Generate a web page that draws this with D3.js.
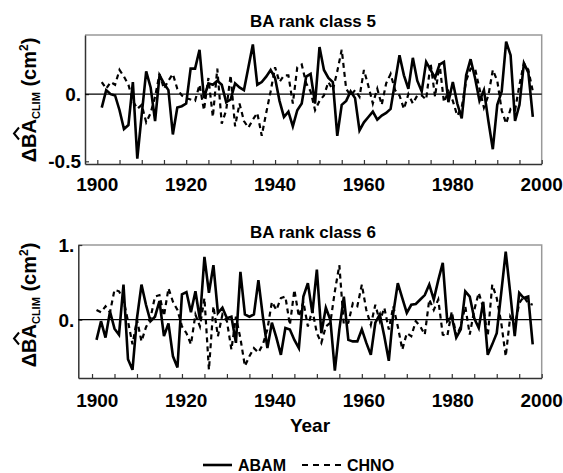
<!DOCTYPE html>
<html>
<head>
<meta charset="utf-8">
<script src="https://cdn.jsdelivr.net/npm/d3@7"></script>
<style>
  body { margin: 0; background: #fff; }
  svg text { font-family: "Liberation Sans", Arial, sans-serif; font-weight: bold; fill: #000; }
</style>
</head>
<body>
<div id="chart"></div>
<script>
// data, one value per year 1901..1998
var years = d3.range(1901, 1999);

var abam5 = [
  -0.10, 0.03, 0.00, -0.01, -0.12, -0.26, -0.23, 0.09, -0.48, -0.15,
  0.17, 0.05, -0.20, 0.14, 0.08, 0.03, -0.30, -0.10, -0.09, -0.07,
  0.19, 0.19, 0.33, -0.03, 0.08, 0.07, 0.10, 0.07, -0.06, -0.04,
  0.08, 0.05, 0.03, 0.20, 0.37, 0.07, 0.09, 0.13, 0.18, 0.12,
  -0.05, -0.17, -0.13, -0.24, -0.12, -0.07, 0.13, 0.15, -0.07, 0.35,
  0.18, 0.12, 0.09, -0.31, -0.08, -0.05, 0.02, -0.03, -0.27, -0.21,
  -0.17, -0.13, -0.19, -0.16, -0.14, -0.11, 0.09, 0.29, 0.14, 0.04,
  0.27, 0.10, 0.02, 0.24, 0.18, 0.12, 0.22, 0.24, -0.06, 0.09,
  -0.07, -0.18, 0.14, 0.26, 0.12, -0.05, 0.03, -0.20, -0.41, -0.08,
  0.02, 0.39, 0.29, -0.20, -0.08, 0.23, 0.16, -0.17
];
var chno5 = [
  0.09, 0.04, 0.09, 0.07, 0.18, 0.13, 0.07, -0.05, -0.11, -0.08,
  -0.21, -0.14, -0.02, 0.15, 0.04, 0.10, 0.15, 0.04, -0.01, -0.03,
  -0.04, -0.05, 0.07, -0.12, 0.12, -0.17, 0.19, -0.22, -0.12, 0.14,
  -0.24, -0.07, -0.20, -0.25, -0.19, -0.14, -0.31, -0.14, 0.02, 0.20,
  0.09, 0.14, 0.14, -0.07, 0.20, 0.22, 0.08, 0.02, -0.12, -0.05,
  -0.01, 0.09, 0.03, 0.17, 0.33, 0.04, -0.01, 0.03, -0.02, 0.18,
  0.06, -0.07, 0.04, -0.08, 0.08, 0.15, 0.03, -0.01, -0.11, 0.00,
  -0.07, -0.01, -0.01, -0.04, 0.23, -0.02, 0.23, -0.06, 0.02, -0.05,
  -0.16, -0.10, 0.10, 0.19, 0.19, 0.04, -0.10, -0.01, 0.18, 0.10,
  -0.12, -0.22, -0.11, -0.12, 0.07, 0.23, 0.18, 0.02
];
var abam6 = [
  -0.27, -0.02, -0.24, 0.11, -0.12, -0.20, 0.47, -0.53, -0.67, 0.02,
  0.47, 0.20, -0.02, 0.04, 0.25, -0.22, -0.05, -0.49, -0.64, 0.34,
  0.37, 0.10, 0.38, 0.00, 0.84, 0.36, 0.73, 0.09, 0.16, 0.02,
  0.04, -0.31, 0.64, 0.07, 0.04, 0.07, 0.53, 0.04, -0.38, -0.04,
  -0.24, -0.47, -0.11, -0.13, -0.27, -0.38, 0.31, 0.49, 0.09, 0.67,
  -0.18, 0.16, 0.00, -0.68, -0.13, 0.31, -0.27, -0.29, -0.29, -0.13,
  -0.31, -0.47, -0.04, 0.07, -0.22, -0.55, 0.09, 0.49, 0.29, 0.09,
  0.20, 0.21, 0.27, 0.33, 0.47, 0.27, 0.53, 0.76, -0.02, 0.04,
  -0.24, -0.13, 0.38, 0.31, 0.02, -0.11, 0.24, -0.47, -0.33, -0.18,
  0.36, 0.91, 0.36, -0.22, 0.36, 0.29, 0.31, -0.33
];
var chno6 = [
  0.13, 0.10, 0.18, 0.10, 0.40, 0.38, 0.27, -0.02, -0.33, 0.00,
  -0.29, -0.10, 0.02, 0.31, 0.33, 0.05, 0.42, 0.24, 0.13, -0.09,
  -0.18, -0.33, 0.07, -0.09, 0.29, -0.67, 0.18, -0.22, 0.07, -0.02,
  -0.40, 0.04, -0.25, -0.62, -0.49, -0.38, -0.44, -0.33, -0.13, 0.24,
  0.13, 0.29, 0.31, -0.07, 0.40, 0.04, 0.24, -0.09, 0.13, -0.18,
  -0.31, -0.09, -0.04, 0.38, 0.73, -0.07, -0.04, 0.22, 0.18, 0.47,
  0.13, -0.07, 0.20, -0.02, 0.16, -0.13, 0.18, -0.09, -0.40, -0.18,
  -0.22, -0.02, -0.09, -0.20, 0.27, 0.13, 0.27, -0.20, -0.22, 0.11,
  -0.22, -0.09, 0.18, -0.20, 0.13, 0.36, 0.16, -0.22, 0.47, 0.29,
  -0.04, -0.49, 0.04, -0.09, 0.22, 0.31, 0.22, 0.20
];

var xLabelYears = [1900, 1920, 1940, 1960, 1980, 2000];
var xMinorYears = d3.range(1900, 2001, 5);
var titles = ["BA rank class 5", "BA rank class 6"];
var seriesNames = ["ABAM", "CHNO"];
var yTicks5 = [-0.5, 0];
var yTickLabels5 = ["-0.5", "0."];
var yTicks6 = [0, 1];
var yTickLabels6 = ["0.", "1."];

var svg = d3.select("#chart").append("svg")
  .attr("width", 563)
  .attr("height", 473);

// panel geometry
var panels = [
  { title: titles[0], a: abam5, c: chno5, ticks: yTicks5, tickLabels: yTickLabels5,
    xDomain: [1897.23, 2000], xRange: [85, 541.7], yDomain: [-0.52, 0.44], yRange: [164, 35],
    titleY: 27, labelY: 191, yLabelCy: 100 },
  { title: titles[1], a: abam6, c: chno6, ticks: yTicks6, tickLabels: yTickLabels6,
    xDomain: [1896.95, 2000], xRange: [78.3, 541.7], yDomain: [-0.78, 1.0], yRange: [378, 245],
    titleY: 238, labelY: 407, yLabelCy: 305 }
];

// tick labels are placed the same in both panels
var xLab = d3.scaleLinear().domain([1897.23, 2000]).range([85, 541.7]);

panels.forEach(function(p)
{
  var x = d3.scaleLinear().domain(p.xDomain).range(p.xRange);
  var y = d3.scaleLinear().domain(p.yDomain).range(p.yRange);
  var g = svg.append("g");

  var x0 = p.xRange[0], x1 = p.xRange[1], yb = p.yRange[0], yt = p.yRange[1];

  // top / right frame in grey
  g.append("path")
    .attr("d", "M" + x0 + "," + yt + "H" + x1 + "V" + yb)
    .attr("fill", "none").attr("stroke", "#999").attr("stroke-width", 1.5);

  // x axis
  g.append("g")
    .attr("transform", "translate(0," + yb + ")")
    .call(d3.axisBottom(x).tickValues(xMinorYears).tickSizeInner(-4).tickSizeOuter(0).tickFormat(""))
    .call(function(a) {
      a.select(".domain").attr("stroke", "#333").attr("stroke-width", 1.5);
      a.selectAll(".tick line").attr("stroke", "#333").attr("stroke-width", 1.2);
    });

  g.selectAll(".xl")
    .data(xLabelYears)
    .enter().append("text")
    .attr("x", function(d) { return xLab(d); })
    .attr("y", p.labelY)
    .attr("text-anchor", "middle")
    .style("font-size", "19px")
    .text(function(d) { return d; });

  // y axis
  g.append("g")
    .attr("transform", "translate(" + x0 + ",0)")
    .call(d3.axisLeft(y).tickValues(p.ticks).tickSizeInner(-4).tickSizeOuter(0).tickFormat(""))
    .call(function(a) {
      a.select(".domain").attr("stroke", "#333").attr("stroke-width", 1.5);
      a.selectAll(".tick line").attr("stroke", "#333").attr("stroke-width", 1.2);
    });

  g.selectAll(".yl")
    .data(p.ticks)
    .enter().append("text")
    .attr("x", x0 - 4)
    .attr("y", function(d) { return y(d); })
    .attr("dy", "0.36em")
    .attr("text-anchor", "end")
    .style("font-size", "19px")
    .text(function(d, i) { return p.tickLabels[i]; });

  // zero line
  g.append("line")
    .attr("x1", x0).attr("x2", x1)
    .attr("y1", y(0)).attr("y2", y(0))
    .attr("stroke", "#000").attr("stroke-width", 1.2);

  var line = d3.line()
    .x(function(d, i) { return x(years[i]); })
    .y(function(d) { return y(d); });

  g.append("path")
    .datum(p.c)
    .attr("d", line)
    .attr("fill", "none")
    .attr("stroke", "#000")
    .attr("stroke-width", 2.2)
    .attr("stroke-dasharray", "5,4");

  g.append("path")
    .datum(p.a)
    .attr("d", line)
    .attr("fill", "none")
    .attr("stroke", "#000")
    .attr("stroke-width", 2.6)
    .attr("stroke-linejoin", "miter");

  // title
  g.append("text")
    .attr("x", 313)
    .attr("y", p.titleY)
    .attr("text-anchor", "middle")
    .style("font-size", "17px")
    .text(p.title);

  // y label: delta BA-hat sub CLIM (cm^2)
  var lg = g.append("g")
    .attr("transform", "translate(36," + p.yLabelCy + ") rotate(-90)");
  var t = lg.append("text").style("font-size", "20px");
  var tDelta = t.append("tspan").text("\u0394");
  var tBA = t.append("tspan").text("BA");
  t.append("tspan").attr("dy", 4).style("font-size", "11px").text("CLIM");
  t.append("tspan").attr("dy", -4).text(" (cm");
  t.append("tspan").attr("dy", -8).style("font-size", "12px").text("2");
  t.append("tspan").attr("dy", 8).text(")");

  var w = t.node().getBBox().width;
  t.attr("x", -w / 2);
  var dW = tDelta.node().getComputedTextLength();
  var baW = tBA.node().getComputedTextLength();
  var hx = -w / 2 + dW + baW / 2;
  lg.append("path")
    .attr("d", "M" + (hx - 6) + ",-17 L" + hx + ",-22 L" + (hx + 6) + ",-17")
    .attr("fill", "none").attr("stroke", "#000").attr("stroke-width", 2);
});

// x title
svg.append("text")
  .attr("x", 310).attr("y", 432)
  .attr("text-anchor", "middle")
  .style("font-size", "19px")
  .text("Year");

// legend
var leg = svg.append("g");
leg.append("line").attr("x1", 203).attr("x2", 232).attr("y1", 465).attr("y2", 465)
  .attr("stroke", "#000").attr("stroke-width", 2.6);
leg.append("text").attr("x", 238).attr("y", 471).style("font-size", "16px").text(seriesNames[0]);
leg.append("line").attr("x1", 302).attr("x2", 341).attr("y1", 465).attr("y2", 465)
  .attr("stroke", "#000").attr("stroke-width", 2.2).attr("stroke-dasharray", "6,5");
leg.append("text").attr("x", 347).attr("y", 471).style("font-size", "16px").text(seriesNames[1]);
</script>
</body>
</html>
